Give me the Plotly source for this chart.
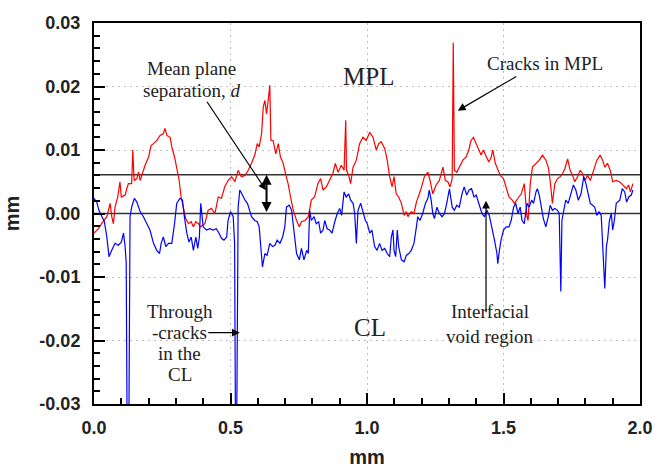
import plotly.graph_objects as go

# ---------------- data (y in units of 1e-3 mm) ----------------
red_x = [0.000,0.016,0.028,0.047,0.059,0.065,0.071,0.077,0.087,0.095,0.100,0.114,0.120,0.126,0.138,0.142,0.147,0.157,0.163,0.169,
         0.181,0.187,0.200,0.209,0.218,0.230,0.242,0.254,0.260,0.267,0.279,0.285,0.295,0.303,0.312,0.319,0.328,0.336,0.346,0.356,
         0.364,0.373,0.383,0.390,0.406,0.418,0.430,0.443,0.455,0.467,0.479,0.491,0.504,0.516,0.528,0.540,0.553,0.565,0.577,0.589,
         0.598,0.605,0.614,0.620,0.626,0.632,0.638,0.644,0.648,0.656,0.666,0.675,0.683,0.693,0.703,0.711,0.720,0.730,0.742,0.752,
         0.760,0.773,0.785,0.796,0.808,0.820,0.830,0.839,0.851,0.863,0.875,0.884,0.894,0.906,0.916,0.922,0.925,0.933,0.940,0.949,
         0.961,0.973,0.985,0.997,1.010,1.022,1.034,1.043,1.052,1.065,1.074,1.083,1.092,1.099,1.107,1.116,1.126,1.136,1.144,1.150,
         1.162,1.172,1.181,1.198,1.210,1.223,1.231,1.241,1.253,1.265,1.278,1.287,1.296,1.304,1.312,1.316,1.320,1.329,1.338,1.351,
         1.363,1.373,1.381,1.390,1.400,1.410,1.418,1.426,1.436,1.446,1.455,1.461,1.470,1.479,1.488,1.500,1.510,1.520,1.532,1.540,
         1.553,1.565,1.576,1.586,1.590,1.598,1.606,1.619,1.631,1.643,1.655,1.664,1.671,1.679,1.688,1.698,1.708,1.716,1.725,1.735,
         1.744,1.753,1.761,1.771,1.781,1.789,1.798,1.808,1.818,1.830,1.842,1.854,1.863,1.871,1.881,1.891,1.900,1.913,1.925,1.937,
         1.950,1.958,1.965,1.974]
red_y = [-3.1,-2.4,-1.6,-0.5,1.6,-0.5,-1.6,1.0,2.6,5.0,2.6,2.9,3.9,4.7,4.7,10.0,5.2,5.5,6.5,5.2,
         6.8,7.6,8.9,10.7,11.0,11.5,12.3,12.6,13.4,12.3,12.0,10.5,8.9,7.3,5.2,2.6,0.5,-0.8,-1.6,-1.3,
         -2.1,-1.3,-1.6,-2.1,-1.6,0.5,0.8,0.0,2.6,2.4,4.2,5.2,5.8,5.0,6.8,5.8,6.0,6.8,7.9,9.2,
         11.0,10.5,12.6,16.8,17.8,15.7,17.8,20.2,11.5,11.5,9.4,11.0,8.9,7.9,6.0,4.7,2.6,0.5,-1.1,-2.1,
         -1.3,-1.1,-0.5,2.1,2.6,4.7,5.5,3.7,4.2,5.2,6.3,7.9,6.5,7.6,6.8,14.7,6.8,6.0,4.7,7.3,
         8.4,11.0,12.0,11.5,12.8,12.0,10.0,11.0,11.3,10.2,8.4,5.8,4.2,5.8,3.1,2.6,1.6,-0.3,0.3,-0.5,
         0.3,0.0,1.8,3.9,5.8,6.5,5.2,3.1,4.5,5.2,7.3,5.2,5.0,4.2,5.5,26.9,6.8,6.5,7.3,8.4,
         8.9,10.0,11.5,12.0,11.0,10.0,9.2,10.0,8.9,8.1,8.9,10.0,7.9,6.8,6.0,5.5,4.2,2.6,2.1,1.6,
         2.4,3.1,4.7,-0.5,-1.1,4.7,7.3,7.9,8.4,9.2,8.4,7.3,5.2,1.6,4.7,5.5,5.8,6.3,7.1,8.6,
         6.8,6.0,5.0,5.8,6.8,6.3,5.2,6.0,5.2,6.8,8.4,9.2,8.4,7.3,7.9,6.8,5.0,5.2,5.0,4.5,
         3.9,4.5,3.4,4.7]

blue_x = [0.000,0.010,0.018,0.028,0.038,0.047,0.055,0.065,0.077,0.089,0.100,0.108,0.114,0.118,0.121,0.128,0.132,0.138,0.148,0.157,
          0.169,0.181,0.193,0.205,0.218,0.230,0.240,0.246,0.254,0.263,0.273,0.285,0.295,0.303,0.315,0.324,0.331,0.340,0.348,0.356,
          0.364,0.373,0.380,0.386,0.391,0.395,0.400,0.412,0.424,0.436,0.448,0.458,0.467,0.476,0.486,0.491,0.500,0.510,0.515,0.518,
          0.523,0.528,0.534,0.544,0.553,0.562,0.571,0.577,0.589,0.598,0.605,0.611,0.617,0.626,0.634,0.644,0.654,0.663,0.671,0.681,
          0.691,0.699,0.705,0.715,0.724,0.732,0.742,0.752,0.760,0.769,0.779,0.785,0.790,0.796,0.806,0.814,0.823,0.830,0.839,0.845,
          0.854,0.863,0.872,0.882,0.891,0.900,0.907,0.916,0.924,0.933,0.940,0.949,0.955,0.961,0.967,0.977,0.985,0.994,1.001,1.010,
          1.018,1.028,1.037,1.046,1.055,1.065,1.074,1.083,1.089,1.095,1.099,1.105,1.111,1.116,1.126,1.136,1.144,1.153,1.162,1.172,
          1.181,1.186,1.194,1.204,1.214,1.223,1.228,1.235,1.241,1.247,1.256,1.265,1.275,1.284,1.292,1.302,1.312,1.320,1.329,1.338,
          1.348,1.356,1.365,1.374,1.383,1.392,1.400,1.410,1.421,1.430,1.439,1.448,1.458,1.467,1.476,1.479,1.485,1.491,1.500,1.510,
          1.520,1.528,1.537,1.545,1.553,1.561,1.568,1.576,1.586,1.594,1.603,1.610,1.619,1.624,1.631,1.639,1.646,1.655,1.664,1.671,
          1.679,1.688,1.698,1.704,1.708,1.710,1.714,1.720,1.728,1.737,1.747,1.756,1.765,1.774,1.784,1.794,1.802,1.810,1.818,1.826,
          1.834,1.842,1.850,1.858,1.863,1.871,1.877,1.881,1.888,1.895,1.900,1.906,1.913,1.920,1.926,1.935,1.944,1.951,1.959,1.968,
          1.974]
blue_y = [2.4,1.8,0.5,-0.5,-1.3,-3.7,-6.8,-5.8,-4.7,-5.0,-4.5,-3.1,-5.2,-7.8,-32.0,-32.0,-0.5,1.0,2.4,1.8,
          0.3,-0.5,-1.6,-2.6,-4.7,-5.8,-6.3,-4.7,-3.7,-5.2,-4.7,-4.7,-1.6,1.6,2.4,2.1,-0.5,-3.1,-4.5,-3.7,
          -5.8,-3.7,-5.5,-3.7,1.6,0.0,-2.1,-2.6,-2.4,-2.6,-2.4,-3.1,-3.9,-4.2,-3.7,-1.1,0.3,-0.5,-4.7,-32.0,
          -32.0,1.0,3.7,2.9,2.1,1.6,0.5,-0.5,-1.1,-1.3,-2.1,-5.2,-8.4,-6.3,-6.6,-4.7,-5.2,-5.0,-4.2,-4.7,
          -3.7,-2.1,1.0,1.3,0.5,-2.6,-6.3,-7.3,-5.5,-7.3,-5.8,-6.3,0.5,-1.1,-0.5,-1.6,-1.3,-3.1,-2.6,-1.1,
          -2.4,-2.6,-3.1,-1.3,0.0,0.8,-0.3,3.4,2.6,3.1,2.1,1.6,0.0,-4.7,0.5,1.6,0.5,-1.1,-1.6,-3.1,
          -2.6,-5.2,-5.8,-4.7,-5.8,-5.5,-6.3,-6.8,-3.7,-2.6,-5.8,-6.8,-2.6,-5.2,-7.3,-7.6,-6.6,-6.3,-5.8,-4.7,
          -2.1,-0.5,-1.1,0.0,1.6,2.4,3.7,2.1,0.0,-0.8,1.0,0.0,-0.5,0.0,1.6,3.9,1.0,0.5,1.3,1.0,
          3.1,4.2,2.9,3.7,3.9,2.6,2.9,1.6,0.0,-0.5,0.5,-0.3,-2.1,-4.2,-6.3,-7.9,-5.8,-4.2,-2.6,-2.1,
          -2.1,-1.1,1.0,1.6,0.0,1.0,-1.1,-1.6,1.6,1.0,2.1,1.6,3.4,3.9,2.9,1.0,-0.8,-2.1,-0.5,1.3,
          0.5,0.8,0.5,0.0,-6.3,-12.3,-1.1,0.5,2.1,1.6,3.1,4.5,3.7,2.1,3.1,5.8,4.7,3.1,1.6,1.3,
          1.0,-0.3,0.3,-0.3,-4.2,-11.8,-5.2,-4.2,-1.1,0.0,-2.6,-1.1,1.6,1.8,2.1,3.9,3.4,1.8,2.6,2.9,
          3.7]

ref_levels = [0.0, 0.0061]          # mean plane of CL and MPL (separation d)
x_ticks = [0.0, 0.5, 1.0, 1.5, 2.0]
x_tick_text = ["0.0", "0.5", "1.0", "1.5", "2.0"]
y_ticks = [-0.03, -0.02, -0.01, 0.0, 0.01, 0.02, 0.03]
y_tick_text = ["-0.03", "-0.02", "-0.01", "0.00", "0.01", "0.02", "0.03"]

scale = 1e-3
fig = go.Figure()
for lvl in ref_levels:
    fig.add_trace(go.Scatter(x=[0, 2], y=[lvl, lvl], mode="lines",
                             line=dict(color="#333333", width=1.6), showlegend=False, hoverinfo="skip"))
fig.add_trace(go.Scatter(x=red_x, y=[v * scale for v in red_y], mode="lines",
                         line=dict(color="#ff0000", width=1.2), showlegend=False, name="MPL"))
fig.add_trace(go.Scatter(x=blue_x, y=[v * scale for v in blue_y], mode="lines",
                         line=dict(color="#0000ff", width=1.2), showlegend=False, name="CL"))

serif = "Liberation Serif, Times New Roman, serif"
txt = "#222222"

def label(text, x, y, size=19):
    fig.add_annotation(x=x, y=y, xref="x", yref="y", text=text, showarrow=False,
                       font=dict(family=serif, size=size, color=txt), xanchor="center", yanchor="middle")

# text labels
label("Mean plane", 0.358, 0.0229)
label("separation, <i>d</i>", 0.358, 0.0194)
label("MPL", 1.005, 0.0215, 25)
label("Cracks in MPL", 1.653, 0.0237)
label("CL", 1.011, -0.0180, 25)
label("Interfacial", 1.451, -0.0155)
label("void region", 1.451, -0.0193)
label("Through", 0.3145, -0.0155)
label("-cracks", 0.3145, -0.0188)
label("in the", 0.3145, -0.0220)
label("CL", 0.3145, -0.0253)

arrow_kw = dict(showarrow=True, arrowhead=2, arrowsize=1.3, arrowwidth=1.2, arrowcolor="black", text="")
# mean plane separation arrow
fig.add_annotation(x=0.630, y=0.00366, ax=-60, ay=-90, **arrow_kw)
# double arrow d
fig.add_annotation(x=0.632, y=0.0061, ax=0.632, ay=0.0, axref="x", ayref="y", text="",
                   showarrow=True, arrowhead=2, startarrowhead=2, arrowside="end+start",
                   arrowsize=1.0, startarrowsize=1.0, arrowwidth=2, arrowcolor="black")
# cracks in MPL
fig.add_annotation(x=1.3326, y=0.0162, ax=60, ay=-35, **arrow_kw)
# interfacial void region
fig.add_annotation(x=1.436, y=0.0020, ax=0, ay=113, **arrow_kw)
# through-cracks
fig.add_annotation(x=0.534, y=-0.01877, ax=-33, ay=0, **arrow_kw)

tickfont = dict(family="Liberation Sans, Arial, sans-serif", size=18, color="#222222", weight="bold")
titlefont = dict(family="Liberation Sans, Arial, sans-serif", size=20, color="#222222", weight="bold")

fig.update_xaxes(range=[0, 2], tickvals=x_ticks, ticktext=x_tick_text, tickfont=tickfont,
                 ticks="inside", ticklen=11, tickwidth=2, tickcolor="black", ticklabelstandoff=6,
                 minor=dict(ticks="inside", ticklen=6, tickwidth=2, tickcolor="black", dtick=0.1, showgrid=False),
                 showline=True, linecolor="black", linewidth=2, mirror=True, automargin=False,
                 showgrid=True, gridcolor="#bdbdbd", griddash="2px,4px", gridwidth=1, zeroline=False,
                 title=dict(text="mm", font=titlefont, standoff=22))
fig.update_yaxes(range=[-0.03, 0.03], tickvals=y_ticks, ticktext=y_tick_text, tickfont=tickfont,
                 ticks="inside", ticklen=11, tickwidth=2, tickcolor="black", ticklabelstandoff=8,
                 minor=dict(ticks="inside", ticklen=6, tickwidth=2, tickcolor="black", dtick=0.002, showgrid=False),
                 showline=True, linecolor="black", linewidth=2, mirror=True, automargin=False,
                 showgrid=True, gridcolor="#bdbdbd", griddash="2px,4px", gridwidth=1, zeroline=False,
                 title=dict(text="mm", font=titlefont, standoff=14))

fig.update_layout(width=655, height=468, margin=dict(l=94, r=15, t=23, b=64),
                  plot_bgcolor="white", paper_bgcolor="white", showlegend=False)
fig.write_html("out.html", config={"displayModeBar": False},
               post_script="document.body.style.margin='0px';document.body.style.overflow='hidden';")
